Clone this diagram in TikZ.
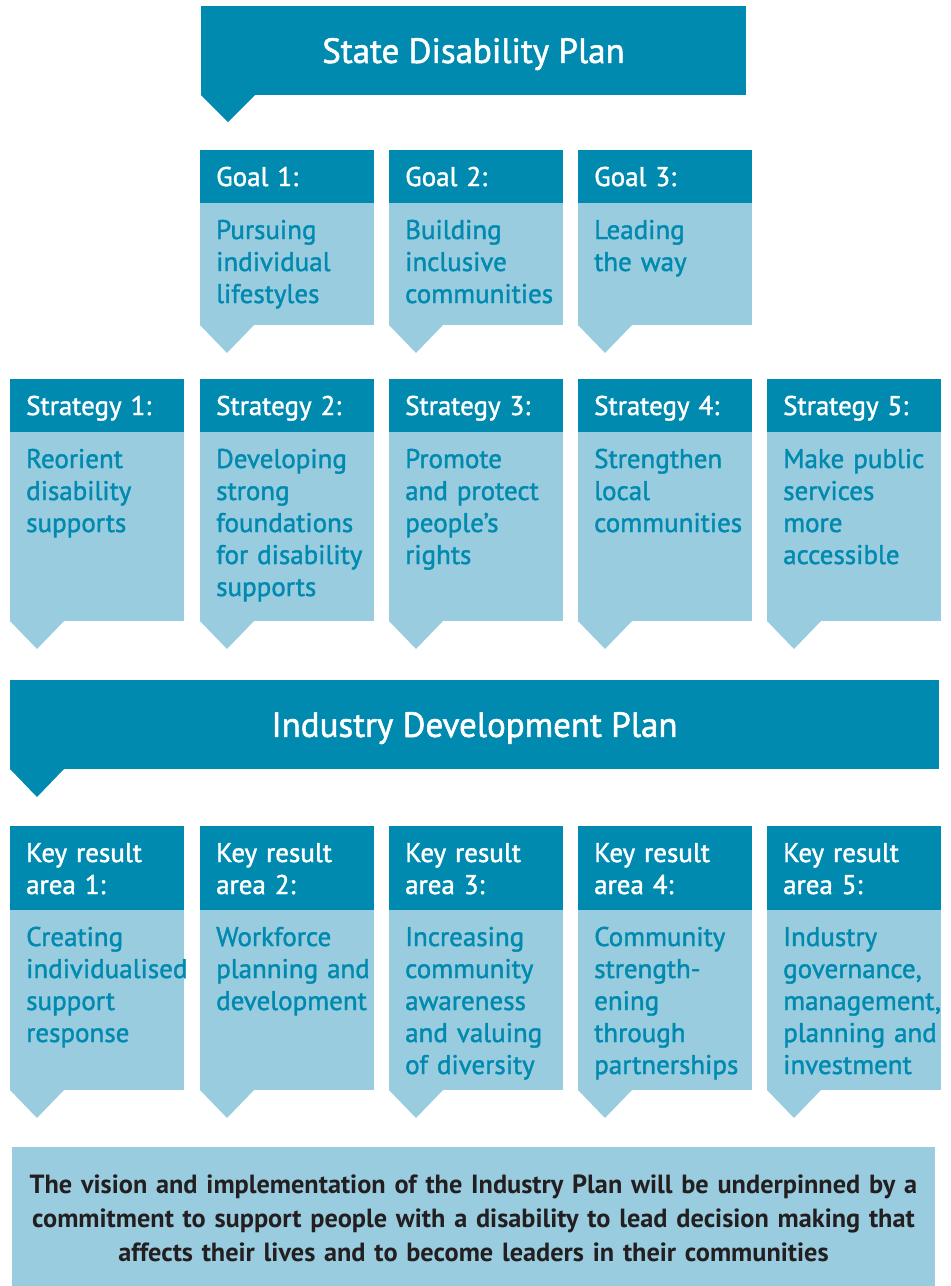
\documentclass[tikz,border=0pt]{standalone}
\usepackage{fontspec}
\setmainfont{PT Sans}
\newfontfamily\panelfont{PT Sans}[FakeBold=1.5]
\usetikzlibrary{calc}
\definecolor{tealdark}{RGB}{0,138,176}
\definecolor{teallight}{RGB}{153,204,223}
\definecolor{inkdark}{RGB}{35,31,32}

% One column panel: dark header, light body, pointer below.
% #1 name, #2 left x, #3 top y, #4 header height, #5 body height,
% #6 header text, #7 body text
\newcommand\panel[7]{%
  \node[hdrbox, minimum height=#4] (#1h) at (#2,#3) {};
  \node[bodybox, minimum height=#5] (#1b) at (#1h.south west) {};
  \fill[teallight] (#1b.south west) -- ++(27,28) -- ++(27,-28) -- cycle;
  \node[hdrtext] (#1ht) at ($(#1h.north west)+(16,36)$) {#6};
  \node[bodytext] (#1bt) at ($(#1b.north west)+(16,36)$) {#7};
}

\begin{document}
\begin{tikzpicture}[x=1pt,y=-1pt,
  hdrbox/.style={fill=tealdark, draw=none, anchor=north west,
    minimum width=174, inner sep=0, outer sep=0},
  bodybox/.style={fill=teallight, draw=none, anchor=north west,
    minimum width=174, inner sep=0, outer sep=0},
  hdrtext/.style={anchor=base west, inner sep=0, text width=170,
    align=left, text=white, font=\panelfont\fontsize{27}{32}\selectfont},
  bodytext/.style={anchor=base west, inner sep=0, text width=170,
    align=left, text=tealdark, font=\panelfont\fontsize{27}{32}\selectfont},
  banner/.style={fill=tealdark, draw=none, anchor=north west, inner sep=0,
    outer sep=0, text=white, text depth=0pt,
    font=\panelfont\fontsize{35}{40}\selectfont}]

\useasboundingbox (0,0) rectangle (951,1286);

% State Disability Plan banner
\node[banner, minimum width=545, minimum height=89] (sdp) at (201,6)
  {State Disability Plan};
\fill[tealdark] (sdp.south west) -- ++(27,27) -- ++(27,-27) -- cycle;

% Goals
\panel{g1}{200}{150}{53}{122}{Goal 1:}{Pursuing\\individual\\lifestyles}
\panel{g2}{389}{150}{53}{122}{Goal 2:}{Building\\inclusive\\communities}
\panel{g3}{578}{150}{53}{122}{Goal 3:}{Leading\\the way}

% Strategies
\panel{s1}{10}{379}{53}{189}{Strategy 1:}{Reorient\\disability\\supports}
\panel{s2}{200}{379}{53}{189}{Strategy 2:}{Developing\\strong\\foundations\\for disability\\supports}
\panel{s3}{389}{379}{53}{189}{Strategy 3:}{Promote\\and protect\\people’s\\rights}
\panel{s4}{578}{379}{53}{189}{Strategy 4:}{Strengthen\\local\\communities}
\panel{s5}{767}{379}{53}{189}{Strategy 5:}{Make public\\services\\more\\accessible}

% Industry Development Plan banner
\node[banner, minimum width=929, minimum height=89] (idp) at (10,680)
  {Industry Development Plan};
\fill[tealdark] (idp.south west) -- ++(27,28) -- ++(27,-28) -- cycle;

% Key result areas
\panel{k1}{10}{826}{84}{180}{Key result\\area 1:}{Creating\\individualised\\support\\response}
\panel{k2}{200}{826}{84}{180}{Key result\\area 2:}{Workforce\\planning and\\development}
\panel{k3}{389}{826}{84}{180}{Key result\\area 3:}{Increasing\\community\\awareness\\and valuing\\of diversity}
\panel{k4}{578}{826}{84}{180}{Key result\\area 4:}{Community\\strength-\\ening\\through\\partnerships}
\panel{k5}{767}{826}{84}{180}{Key result\\area 5:}{Industry\\governance,\\management,\\planning and\\investment}

% Closing statement
\node[fill=teallight, anchor=north west, minimum width=923, minimum height=139,
  inner sep=0, outer sep=0] (vision) at (12,1147) {};
\node[anchor=base, inner sep=0, text width=923, align=center, text=inkdark,
  font=\bfseries\fontsize{26.3}{34}\selectfont] (visiontext)
  at ($(vision.north)+(0,46)$)
  {The vision and implementation of the Industry Plan will be underpinned by a\\
   commitment to support people with a disability to lead decision making that\\
   affects their lives and to become leaders in their communities};
\end{tikzpicture}
\end{document}
